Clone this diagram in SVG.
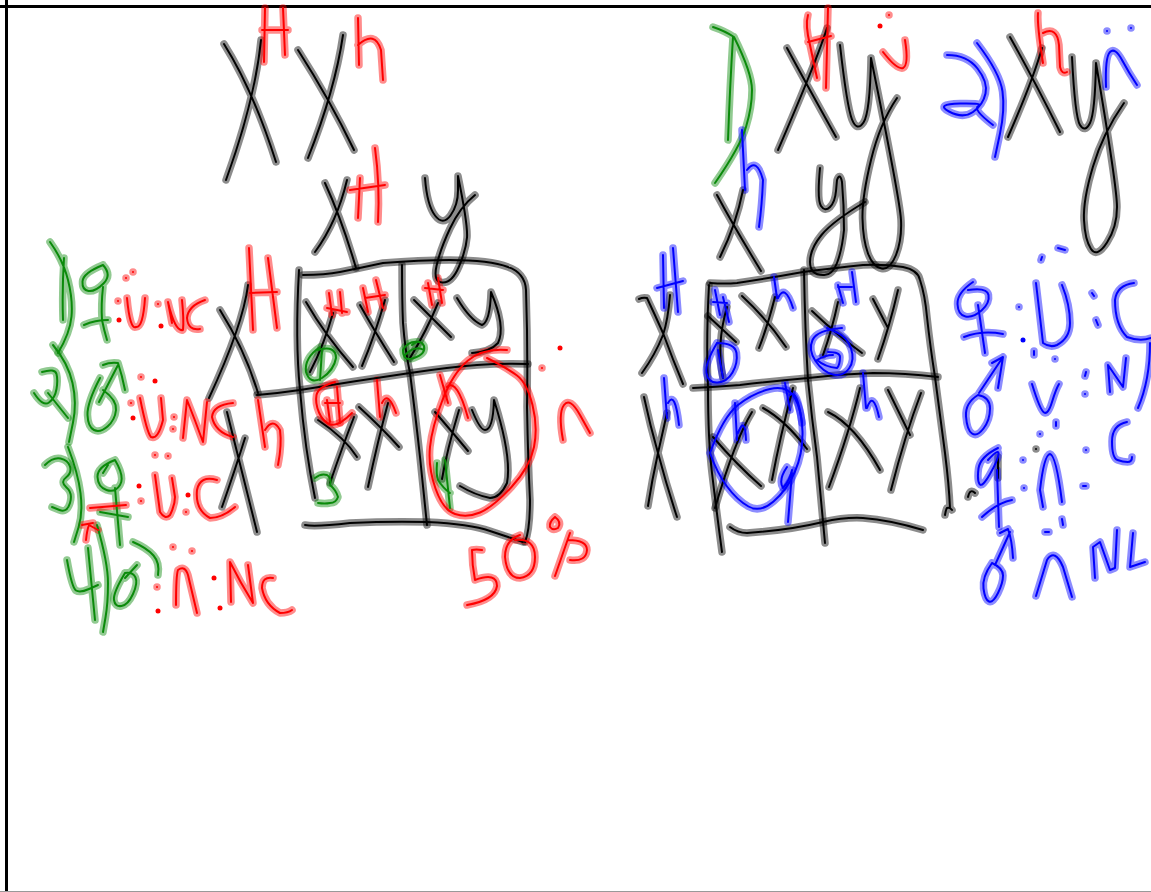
<svg xmlns="http://www.w3.org/2000/svg" width="1151" height="892" viewBox="0 0 1151 892">
<!-- Freehand whiteboard scene: every mark is an ink stroke (halo + core), drawn directly. -->
<style>
path{fill:none;stroke-linecap:round;stroke-linejoin:round}
.sr{fill:#f00}.sb{fill:#00f}
</style>
<defs>
<g id="black">
<path d="M224,44Q253,90 276,162M261,40Q255,100 226,180M298,50Q330,100 354,150M343,35Q335,90 308,158"/>
<path d="M325,183Q342,220 356,268M347,180Q337,222 315,252"/>
<path d="M425,178Q427,205 435,215.500T450.500,215.500T458,190.500T458,176Q468,225 467,237.500T459,266.500T442.500,282.500T436.500,266T450,228.500T475,195"/>
<path d="M220,310Q245,350 258,393M248,285Q243,325 209,398M227,412Q238,457 257,532M245,438Q235,470 222,507"/>
<path d="M299,270Q295,340 300,390Q305,450 315,498"/>
<path d="M303,275Q325,275 340,272Q360,268 383,263Q420,260 450,260Q490,260 508,267Q525,273 526,290Q528,350 527,407Q528,460 530,500Q530,530 525,542"/>
<path d="M305,525Q315,527 350,523Q390,521 427,522Q470,524 490,531Q505,536 523,542"/>
<path d="M402,265Q402,300 403,323Q405,350 410,373Q416,420 420,457Q424,495 427,525"/>
<path d="M257,395Q280,393 300,390Q355,381 410,373Q450,367 477,365Q505,363 528,364"/>
<path d="M306,302Q325,335 353,367M333,313Q324,345 310,372M360,305Q375,332 394,362M385,300Q375,335 362,366"/>
<path d="M414,300Q432,318 451,337M438,303Q427,330 410,358"/>
<path d="M457,298Q470,320 482,325Q490,322 491,292Q506,327 498,343Q490,352 472,353"/>
<path d="M318,420Q345,438 357,457M354,417Q343,445 330,483M359,407Q382,428 399,447M388,403Q378,440 368,487"/>
<path d="M435,412Q453,433 468,451M459,410Q447,450 442,479"/>
<path d="M472,410Q480,430 485,430Q493,430 494,400Q512,457 507,483Q500,498 490,498Q475,495 460,486"/>
<path d="M717,195Q733,225 761,271M743,190Q736,225 720,257"/>
<path d="M820,168Q817,200 821,206T830,207T836,191T837,180Q840,172 842,182Q844,205 844,230Q842,250 837,263T823,275Q810,275 810,262T821.500,235T865,202"/>
<path d="M787,48Q807,85 836,137M827,28Q817,60 778,150"/>
<path d="M840,45Q847,107 852,119.500T863.500,122.500T871,58M871,58Q900,200 901,220T896,255T881.500,268.500T868,253.500T862.500,218.500T871,160T897,98"/>
<path d="M1010,37Q1033,78 1060,132M1042,48Q1033,80 1008,137"/>
<path d="M1072,57Q1075,117 1080,125T1090,123T1096,63M1096,63Q1117,187 1117,207T1107,242.500T1091,249T1084,220T1093,166.500T1124,103"/>
<path d="M709,285Q706,340 708,387Q708,440 712,473Q717,515 722,552"/>
<path d="M710,283Q725,284 737,283Q770,278 803,272Q835,268 863,265Q885,264 903,267Q918,270 920,280Q925,295 927,317Q930,345 935,377Q940,415 945,453Q949,485 950,508M945,515Q946,509 947,508Q950,507 952,510"/>
<path d="M804,270Q805,330 808,380Q812,420 817,457Q821,500 825,543"/>
<path d="M693,388Q715,387 740,385Q775,381 808,378Q840,374 873,373Q905,373 938,377"/>
<path d="M730,527Q738,533 747,533Q790,530 823,522Q845,517 863,518Q890,520 923,530"/>
<path d="M639,299Q643,297 647,298Q655,315 663,333Q673,360 683,384M670,295Q668,320 663,335Q655,355 642,373M644,397Q650,425 658,453Q667,487 677,517M667,413Q662,435 658,453Q652,480 648,506"/>
<path d="M708,316Q722,329 736,342M727,307Q716,345 723,378"/>
<path d="M742,296Q768,320 786,347M775,297Q768,325 759,348"/>
<path d="M812,311Q837,335 862,353M838,302Q832,330 823,355"/>
<path d="M873,299L888,328M898,290Q890,325 878,359"/>
<path d="M713,437Q737,465 761,486M752,412Q735,440 715,508M763,408Q785,420 807,449M793,388Q780,437 772,480"/>
<path d="M828,412Q855,425 880,470M860,388Q850,430 829,487M888,390L910,435M921,393Q905,435 891,490"/>
<path d="M1036,449h.01M998,457L998,478M968,497Q970,488 975,493"/>
</g>
<g id="green">
<path d="M50,242Q63,260 68,280T71.500,316.500T58,353M64,258Q62,290 63,320"/>
<path d="M103,265Q83,273 82.500,281.500T88.500,291T103.500,283.500T103,265M103,287Q101,305 102,320Q104,330 107,340M84,325Q95,320 108,320"/>
<path d="M42,372Q55,368 56.500,374T56.500,389T49,402.500T34,393M48,393L68,418"/>
<path d="M53,345Q68,363 72.500,383T73,422.500T69,442"/>
<path d="M100,378Q87,403 87.500,415T94,430T107.500,426.500T116,410T103,390M99,402L118,365M103,365Q110,362 118,363Q122,375 125,390"/>
<path d="M45,465Q53,457 60.500,458.500T70,466.500T66,477.500T66.500,487.500T70,503T59.500,510T52,507"/>
<path d="M68,447Q78,473 80.500,493T78.500,527.500T74,542"/>
<path d="M115,460Q97,467 97.500,477T106.500,490T120,485T115,460M103,473L108,465M115,488L120,545M100,512L128,517"/>
<path d="M67,560Q72,588 76,590.500T89,589T98,585M88,548L95,620"/>
<path d="M97,525Q108,563 108,583T105.500,617.500T103,632"/>
<path d="M125,573Q113,593 114,600T121.500,606T133,594T135.500,577.500T125,573M125,578L137,565M133,542Q147,548 153.500,555.500T158,575"/>
<path d="M320,347Q304,358 306,372Q310,385 322,378Q334,370 336,358Q336,345 318,350M322,350L320,380"/>
<path d="M420,342Q408,340 403,350Q403,362 414,358Q426,354 424,346Q420,338 412,345M405,355Q415,345 424,350"/>
<path d="M315,478Q321,473 327,475Q332,478 330,485Q336,490 338,497Q336,503 330,503Q325,504 318,503"/>
<path d="M437,463Q436,475 438,480Q443,488 450,493M445,460L450,508"/>
<path d="M713,27Q725,31 734,37M734,37Q752,73 752,90T746,127T715,183M733,37Q730,85 728,140"/>
</g>
<g id="red">
<path d="M265,8L264,62M283,8L285,55M262,30L288,30"/>
<path d="M358,18L359,65M358,45Q375,30 381,50Q382,65 383,80"/>
<path d="M360,178L358,218M375,148Q380,185 378,222M350,190L385,185"/>
<path d="M249,248L253,330M268,258L277,328M250,293L277,292"/>
<path d="M258,400L265,447M265,430Q273,417 280,430Q282,445 278,465"/>
<path d="M329,293L332,315M340,292L342,313M327,308L347,312"/>
<path d="M363,288L368,312M376,280L383,308M365,298L385,295"/>
<path d="M428,283L432,305M438,278L442,303M425,288L443,290"/>
<path d="M335,382Q318,387 316.500,395T319,412.500T330.500,424.500T352,413"/>
<path d="M327,400L330,422M337,387L340,423M325,403L340,403"/>
<path d="M377,380L380,417M382,403Q388,390 396,413"/>
<path d="M440,375L448,403M447,387Q457,378 468,418"/>
<path d="M507,350Q483,348 468,360.500T442.500,400T430,447T435.500,488.500T455,514T480,512.500T511.500,487T534,447T532.500,405T517,375.500T487,358"/>
<path d="M563,440Q558,413 564,405T580,415T590,433"/>
<path d="M482,550Q476,549 472,550Q472,565 475,580Q497,572 497,586Q495,600 467,605"/>
<path d="M520,535Q505,540 505,557Q507,578 520,578Q535,576 535,557Q535,538 515,540"/>
<path d="M555,517Q549,522 550,527Q553,531 558,528Q562,522 555,517"/>
<path d="M570,533L555,576M568,540Q587,540 587,550Q586,562 570,560"/>
<path d="M883,52Q897,70 903,68Q909,65 905,40"/>
<path d="M808,15Q805,25 810,45L817,78M828,8L826,88M808,42L831,36"/>
<path d="M1038,13Q1037,25 1043,63M1043,33Q1057,26 1059,45L1060,67Q1062,75 1067,72"/>
<path d="M127,298Q130,330 136,327Q143,328 145,298"/>
<path d="M168,302L172,323M168,302Q175,332 183,330Q184,320 182,300M205,300Q188,306 187,318Q188,331 200,329"/>
<path d="M140,398Q147,433 151,437Q158,440 163,420L161,398"/>
<path d="M183,438L187,400Q195,420 203,442L207,402M233,403Q213,405 212,417Q215,432 233,437"/>
<path d="M155,475L160,512Q165,520 170,515Q175,505 175,497L172,478"/>
<path d="M217,480Q200,475 197,490Q195,510 210,518Q222,518 235,507"/>
<path d="M90,508L126,505M86,540Q87,530 89,525L98,530M82,525L93,523"/>
<path d="M176,605Q176,575 178,570Q185,565 188,575L197,613"/>
<path d="M231,602L230,562Q240,582 253,603L248,565M273,578Q262,576 262,588Q265,605 280,613Q288,613 292,610"/>
<path d="M126,278h.01M133,272h.01M118,301h.01M158,304h.01M141,377h.01M131,403h.01M174,417h.01M173,429h.01M155,455h.01M168,456h.01M141,501h.01M186,512h.01M173,547h.01M192,551h.01M157,587h.01M542,368h.01M889,15h.01"/>
</g>
<g id="blue">
<path d="M742,130L745,190M747,170Q757,157 763,180Q762,205 759,227"/>
<path d="M947,55Q967,55 977.500,68.500T985.500,93.500T973,112T949,111.500T960,103.500T978.500,106T993,125"/>
<path d="M977,43Q1000,73 1002.500,91.500T1000,133.500T995,157"/>
<path d="M1106,87Q1105,57 1110,52T1122,60T1137,85"/>
<path d="M663,255L664,308M673,248L678,312M657,288L683,281"/>
<path d="M664,378L667,418M668,403Q675,390 679,425"/>
<path d="M715,290L720,315M723,297L729,322M713,302L727,303"/>
<path d="M717,343Q705,363 706.500,373T717.500,382.500T732.500,372.500T736.500,353T717,343M718,350L723,378"/>
<path d="M774,277L777,298M778,298Q785,283 793,308"/>
<path d="M838,285L843,303M852,272L856,302M838,287L852,287"/>
<path d="M842,328Q817,330 812.500,340T815.500,361T833,374.500T849,368.500T851,348.500T837,332.500T827,328M828,352Q840,352 840,357Q840,365 837,368Q825,367 817,360Q825,355 833,355"/>
<path d="M710,453Q723,417 738,405T770,389T794.500,397.500T802.500,431.500T795,471.500T773.500,501.500T748.500,506.500T727,486.500T710,453"/>
<path d="M735,403L737,440M738,433Q745,415 746,440M785,383L790,410M790,395Q797,388 802,423"/>
<path d="M787,467Q778,480 783,488Q790,480 792,470M792,473L788,522"/>
<path d="M863,373L866,408M867,408Q873,390 879,417"/>
<path d="M973,282Q957,293 957.500,304T965.500,316.500T981.500,310.500T988.500,295T968,290M978,305L985,353M964,337Q982,330 1003,334"/>
<path d="M1036,283L1043,343Q1050,348 1057,345Q1070,338 1070,323Q1070,305 1062,285"/>
<path d="M1134,283Q1117,285 1115,300Q1115,325 1127,337Q1140,342 1151,338M1150,343Q1150,380 1138,408"/>
<path d="M978,395Q965,403 966,416.500T972,433.500T983.500,428.500T990,408.500T978,395M979,393L1003,357M992,363L1003,357L998,388"/>
<path d="M1032,384Q1040,410 1044,412.500T1052,402T1059,384M1110,392L1108,365L1123,387L1126,358"/>
<path d="M1127,422Q1112,425 1112,441.500T1117.500,460T1127.500,462T1132,457"/>
<path d="M998,448Q980,457 978.500,468.500T979.500,484T990,474T998.500,454T988,460M997,470L999,527M982,517Q997,503 1012,500"/>
<path d="M1043,507L1040,490Q1044,455 1050,454Q1056,455 1062,502"/>
<path d="M992,563Q982,577 983.500,588.500T989,601.500T998,593T1003,575.500T992,563M995,565L1010,532M1000,533L1008,529Q1012,540 1013,558"/>
<path d="M1036,596L1047,560Q1055,548 1063,567L1072,597"/>
<path d="M1095,578L1093,547L1100,542L1110,570L1115,568L1117,530M1133,533L1130,567L1145,562"/>
<path d="M1107,31h.01M1131,28h.01M1041,260L1042,257M1058,248L1065,250M1019,307h.01M1034,351L1034,355M1055,359h.01M1086,372L1085,376M1085,394h.01M1092,293L1094,296M1096,320L1098,325M1056,422L1056,426M1040,434h.01M1023,460h.01M1024,488h.01M1086,450h.01M1083,486L1086,486M1062,519L1063,525M1045,532L1049,532"/>
</g>
</defs>
<rect width="1151" height="892" fill="#fff"/>
<path d="M0,6.500H1151M6.500,0V892" stroke="#000" stroke-width="3"/>
<path d="M0,891.500H1151" stroke="#999" stroke-width="1"/>
<g stroke-width="7.500" stroke-opacity="0.45">
<use href="#black" stroke="#000"/>
<use href="#green" stroke="#0a8a0a"/>
<use href="#red" stroke="#f00"/>
<use href="#blue" stroke="#00f"/>
</g>
<g stroke-width="2">
<use href="#black" stroke="#000"/>
<use href="#green" stroke="#0a8a0a"/>
<use href="#red" stroke="#f00"/>
<use href="#blue" stroke="#00f"/>
</g>
<g class="sr">
<circle cx="119" cy="320" r="2.500"/><circle cx="161" cy="326" r="2.500"/><circle cx="155" cy="381" r="2.500"/><circle cx="133" cy="418" r="2.500"/>
<circle cx="139" cy="486" r="2.500"/><circle cx="188" cy="495" r="2.500"/><circle cx="158" cy="611" r="2.500"/><circle cx="214" cy="578" r="2.500"/><circle cx="220" cy="608" r="2.500"/>
<circle cx="560" cy="348" r="2.500"/><circle cx="880" cy="26" r="2.500"/>
</g>
<g class="sb"><circle cx="1023" cy="340" r="2.500"/></g>
</svg>
